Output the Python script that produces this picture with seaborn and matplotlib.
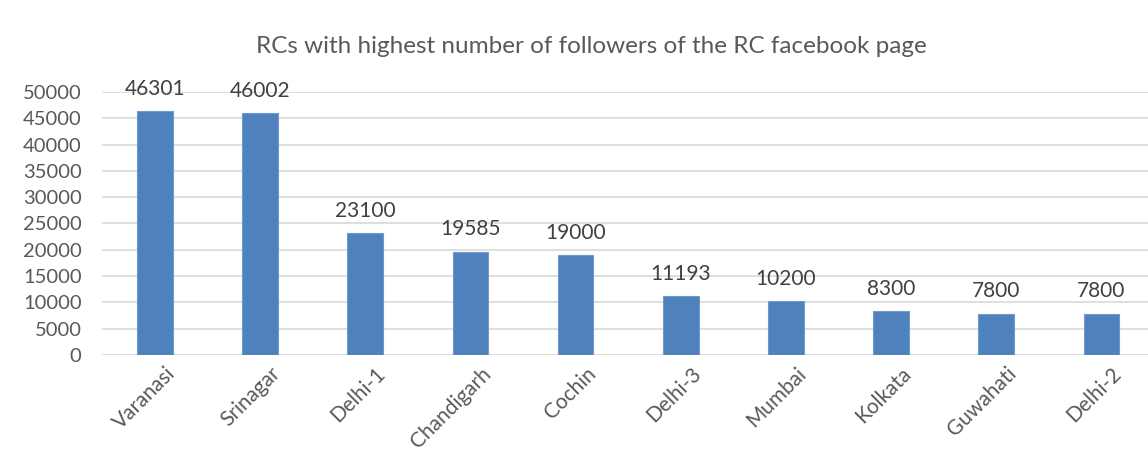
import matplotlib
matplotlib.use("Agg")
import matplotlib.pyplot as plt
import matplotlib.transforms as mtransforms
import seaborn as sns
import pandas as pd

categories = ["Varanasi", "Srinagar", "Delhi-1", "Chandigarh", "Cochin",
              "Delhi-3", "Mumbai", "Kolkata", "Guwahati", "Delhi-2"]
followers = [46301, 46002, 23100, 19585, 19000, 11193, 10200, 8300, 7800, 7800]
yticks = [0, 5000, 10000, 15000, 20000, 25000, 30000, 35000, 40000, 45000, 50000]
title = "RCs with highest number of followers of the RC facebook page"

sns.set_theme(style="white")
plt.rcParams['font.family'] = ['Lato', 'DejaVu Sans']
text_color = "#595959"

df = pd.DataFrame({"rc": categories, "followers": followers})

fig = plt.figure(figsize=(11.48, 4.63), dpi=100)
ax = fig.add_axes([0.0892, 0.2333, 0.916, 0.568])
sns.barplot(data=df, x="rc", y="followers", color="#4F81BD", width=0.34,
            saturation=1, ax=ax, edgecolor="#6E9AD0", linewidth=0.8, zorder=3)

ax.set_ylim(0, 50000)
ax.set_yticks(yticks)
ax.set_yticklabels([str(v) for v in yticks], fontsize=14.5, color=text_color)
ax.yaxis.grid(True, color="#D9D9D9", linewidth=1.2, zorder=0)
ax.set_axisbelow(True)
for s in ax.spines.values():
    s.set_visible(False)
ax.tick_params(axis="both", length=0)
ax.tick_params(axis="y", pad=15)
ax.set_xlabel("")
ax.set_ylabel("")
ax.set_xticks(range(len(categories)))
ax.set_xticklabels(categories, rotation=45, ha="right", rotation_mode="anchor",
                   fontsize=15, color=text_color)
ax.tick_params(axis="x", pad=6)
offset = mtransforms.ScaledTranslation(10 / 100, 0, fig.dpi_scale_trans)
for lbl in ax.get_xticklabels():
    lbl.set_transform(lbl.get_transform() + offset)

for i, v in enumerate(followers):
    ax.annotate(str(v), (i, v), xytext=(0, 9), textcoords="offset points",
                ha="center", va="bottom", fontsize=15, color="#404040")

fig.text(0.515, 0.9, title, ha="center", va="center", fontsize=17.5, color=text_color)

fig.savefig("out.png", dpi=100)
